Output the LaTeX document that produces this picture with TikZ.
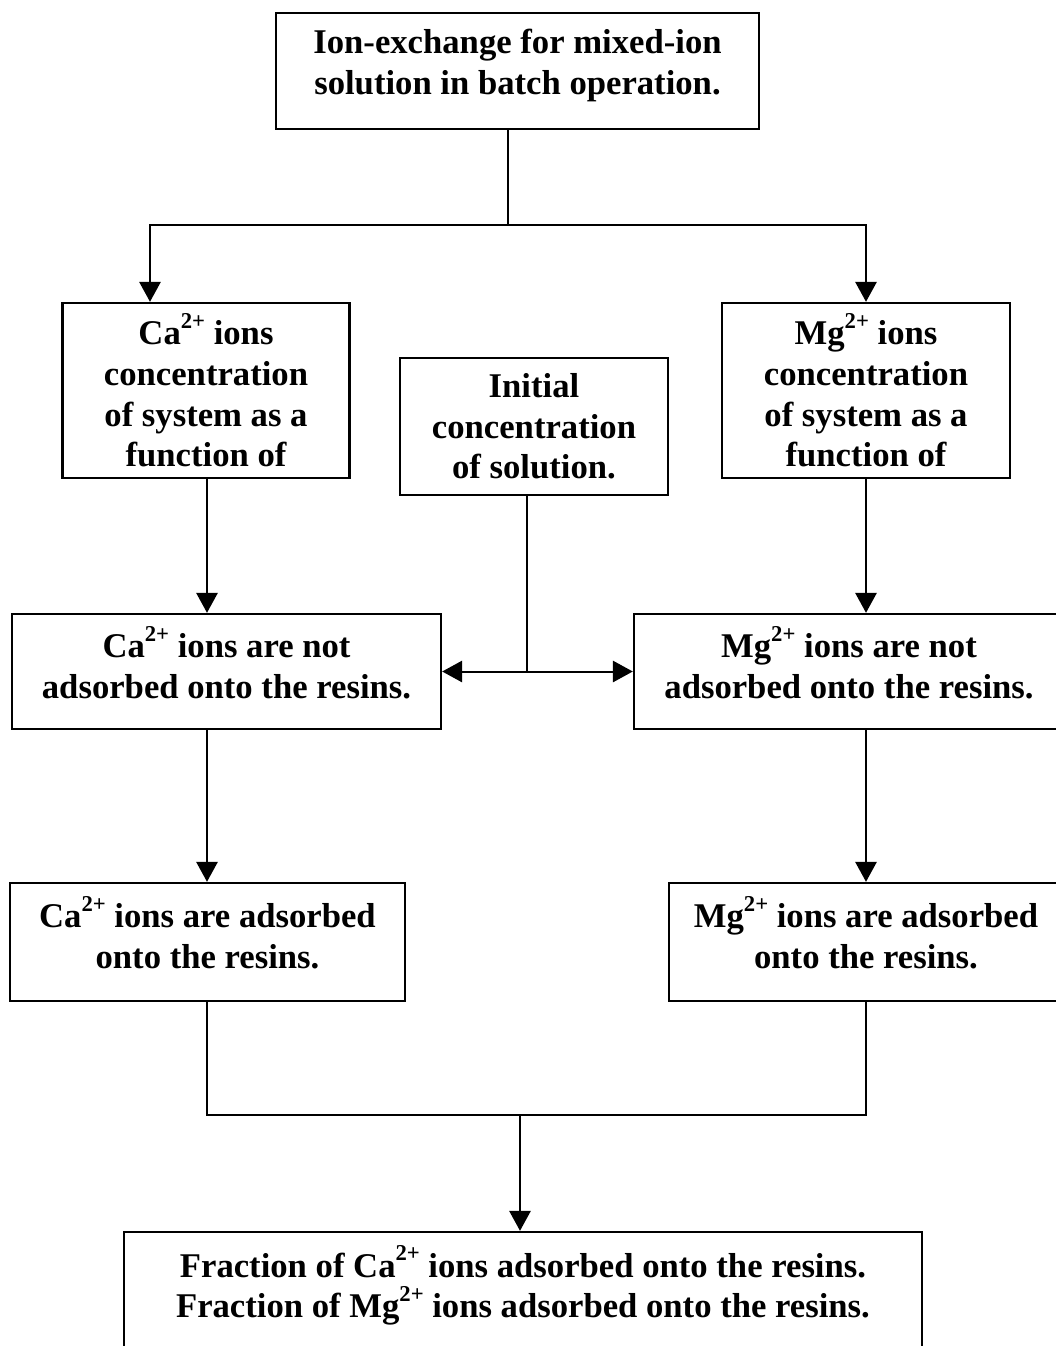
\documentclass[tikz,border=0pt]{standalone}
\usepackage{fontspec}
\setmainfont{Liberation Serif}
\usepackage{tikz}
\usetikzlibrary{arrows.meta, positioning, calc}

\newcommand{\ionsup}[1]{\raisebox{0.47em}{\fontsize{17}{17}\selectfont #1}}

\tikzset{
    flowbox/.style={draw, line width=1.8pt, align=center, inner sep=0pt,
        font=\fontsize{26}{30.5}\selectfont\bfseries},
    twoline/.style={text depth=14pt},
    flowline/.style={line width=1.5pt},
    flowarrow/.style={flowline, -{Triangle[length=15pt, width=16pt]}}
}

\begin{document}
\begin{tikzpicture}[x=0.75pt, y=-0.75pt]
    \useasboundingbox (0,0) rectangle (1056,1346);
    \clip (0,0) rectangle (1056,1346);

    % Boxes
    \node[flowbox, twoline, minimum width=362.25pt, minimum height=87pt] (batch) at (517.5,71)
        {Ion-exchange for mixed-ion\\solution in batch operation.};
    \node[flowbox, minimum width=215.25pt, minimum height=131.25pt] (cafunc) at (206,390.5)
        {Ca\ionsup{2+} ions\\concentration\\of system as a\\function of};
    \node[flowbox, minimum width=216pt, minimum height=131.25pt] (mgfunc) at (866,390.5)
        {Mg\ionsup{2+} ions\\concentration\\of system as a\\function of};
    \node[flowbox, minimum width=201pt, minimum height=102.75pt] (initconc) at (534,426.5)
        {Initial\\concentration\\of solution.};
    \node[flowbox, twoline, minimum width=321.75pt, minimum height=86.25pt] (canot) at (226.5,671.5)
        {Ca\ionsup{2+} ions are not\\adsorbed onto the resins.};
    \node[flowbox, twoline, minimum width=322.5pt, minimum height=86.25pt] (mgnot) at (849,671.5)
        {Mg\ionsup{2+} ions are not\\adsorbed onto the resins.};
    \node[flowbox, twoline, minimum width=296.25pt, minimum height=88.5pt] (caads) at (207.5,942)
        {Ca\ionsup{2+} ions are adsorbed\\onto the resins.};
    \node[flowbox, twoline, minimum width=295.5pt, minimum height=88.5pt] (mgads) at (866,942)
        {Mg\ionsup{2+} ions are adsorbed\\onto the resins.};
    \node[flowbox, twoline, minimum width=598.5pt, minimum height=88.5pt] (fraction) at (523,1291)
        {Fraction of Ca\ionsup{2+} ions adsorbed onto the resins.\\Fraction of Mg\ionsup{2+} ions adsorbed onto the resins.};

    % Branch points
    \coordinate (split) at (508,225);
    \coordinate (caknee) at (150,225);
    \coordinate (cacol) at (207,0);
    \coordinate (fork) at (527,671.5);
    \coordinate (merge) at (520,1115);

    % Connectors
    \draw[flowline] (batch.south -| split) -- (split);
    \draw[flowarrow] (split) -- (caknee) -- (caknee |- cafunc.north);
    \draw[flowarrow] (split) -| (mgfunc.north);
    \draw[flowarrow] (cafunc.south -| cacol) -- (canot.north -| cacol);
    \draw[flowarrow] (mgfunc.south) -- (mgfunc.south |- mgnot.north);
    \draw[flowline] (initconc.south -| fork) -- (fork);
    \draw[flowarrow] (fork) -- (canot.east);
    \draw[flowarrow] (fork) -- (mgnot.west);
    \draw[flowarrow] (canot.south -| cacol) -- (caads.north -| cacol);
    \draw[flowarrow] (mgnot.south -| mgads.north) -- (mgads.north);
    \draw[flowline] (caads.south -| cacol) |- (merge) -| (mgads.south);
    \draw[flowarrow] (merge) -- (merge |- fraction.north);
\end{tikzpicture}
\end{document}
